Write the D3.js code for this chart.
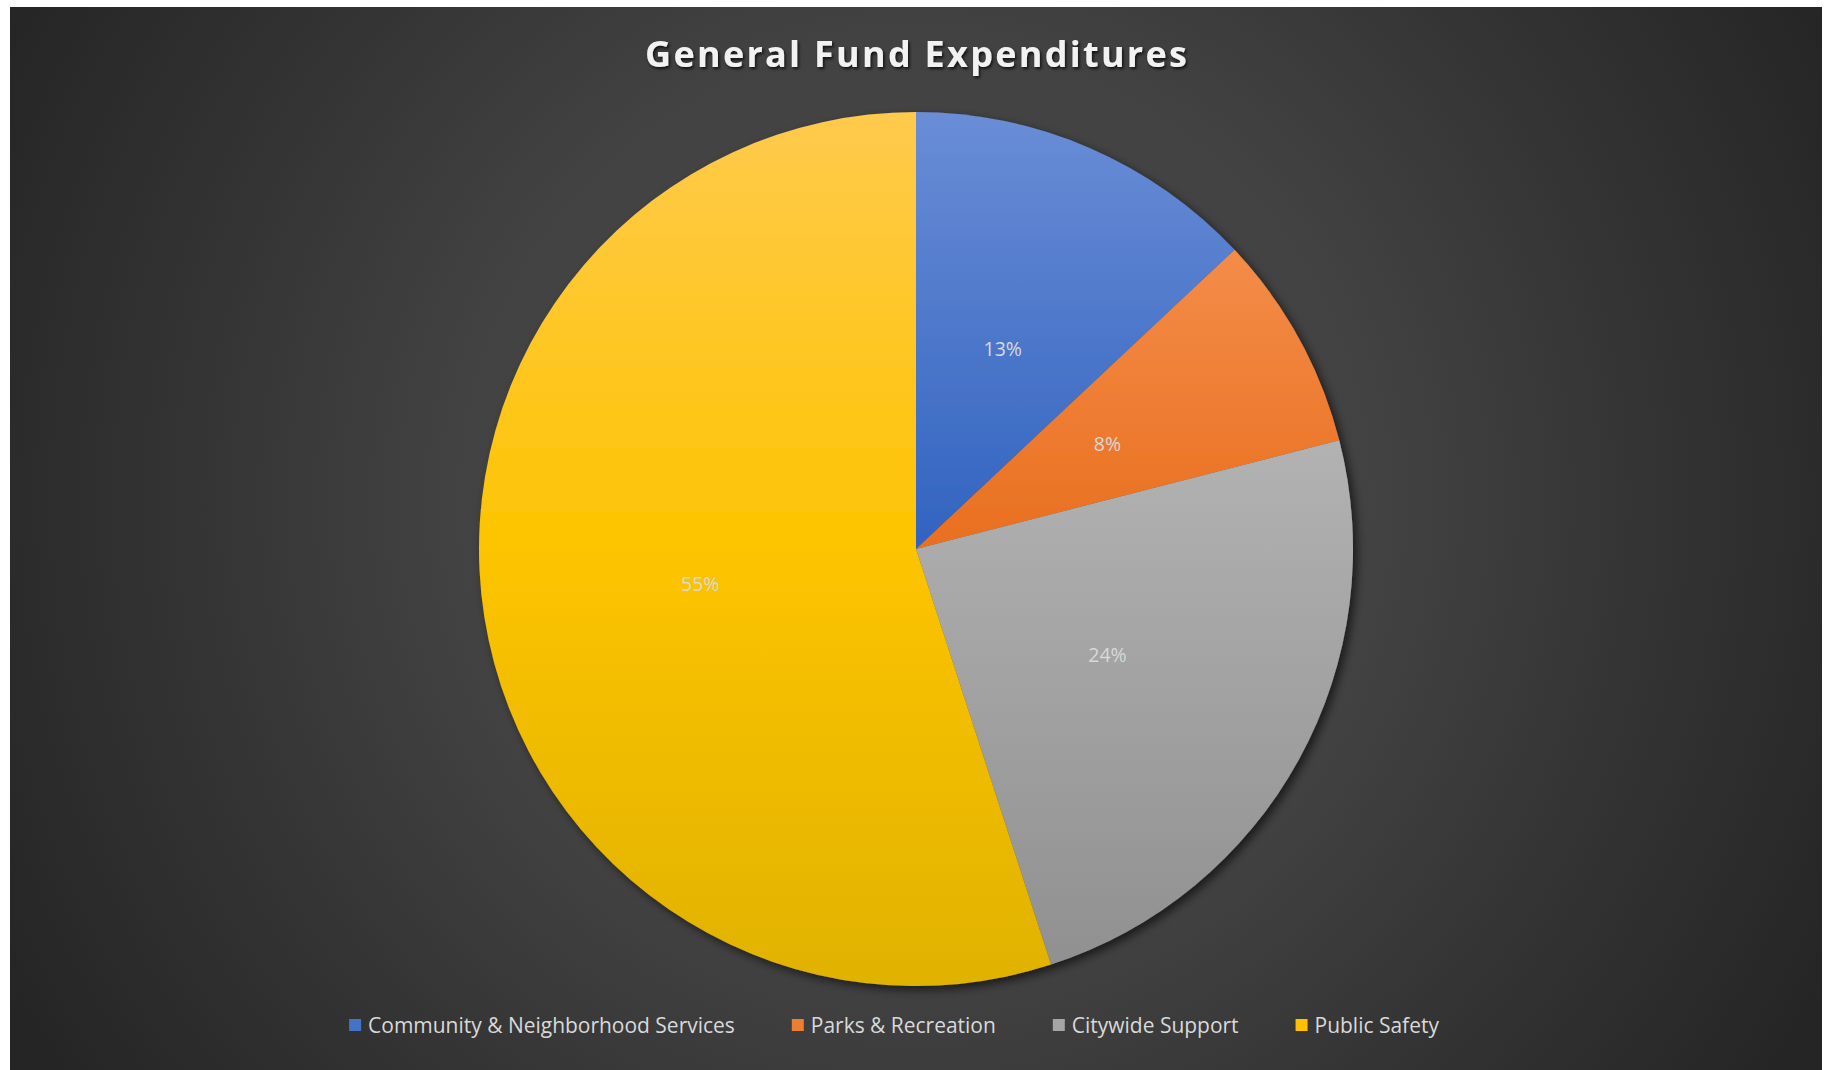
<!DOCTYPE html>
<html>
<head>
<meta charset="utf-8">
<script src="https://cdn.jsdelivr.net/npm/d3@7"></script>
<style>
  html, body { margin: 0; padding: 0; background: #ffffff; }
  svg { display: block; }
</style>
</head>
<body>
<svg id="chart" width="1829" height="1070"></svg>
<script>
// General Fund expenditures by service area (percent of total)
const categories = ["Community & Neighborhood Services", "Parks & Recreation", "Citywide Support", "Public Safety"];
const shares = [13, 8, 24, 55];
const titleText = "General Fund Expenditures";

// Per-slice vertical gradient colours: top, middle, bottom
const sliceTop    = ["#6a8dd6", "#f89a5c", "#c8c8c8", "#ffca4c"];
const sliceMid    = ["#3163c0", "#e96f1f", "#ababab", "#fdc400"];
const sliceBottom = ["#2a56aa", "#d9620f", "#8f8f8f", "#e0b200"];
const legendSwatch = ["#4472c4", "#ed7d31", "#a5a5a5", "#ffc000"];

const frame = { x: 10, y: 7, w: 1812, h: 1063 };
const cx = 916, cy = 549, R = 437;

const svg = d3.select("#chart");
const defs = svg.append("defs");

// Background: dark radial gradient
const bg = defs.append("radialGradient")
  .attr("id", "bgGrad")
  .attr("gradientUnits", "userSpaceOnUse")
  .attr("cx", 916).attr("cy", 500).attr("r", 1035);
[[0, "#4a4a4a"], [0.45, "#424242"], [0.7, "#343434"], [1, "#252525"]]
  .forEach(([o, c]) => bg.append("stop").attr("offset", o).attr("stop-color", c));

svg.append("rect")
  .attr("x", frame.x).attr("y", frame.y)
  .attr("width", frame.w).attr("height", frame.h)
  .attr("fill", "url(#bgGrad)");

// Drop shadow for the pie
const pieShadow = defs.append("filter").attr("id", "pieShadow")
  .attr("x", "-10%").attr("y", "-10%").attr("width", "120%").attr("height", "120%");
pieShadow.append("feDropShadow")
  .attr("dx", 4).attr("dy", 4).attr("stdDeviation", 5)
  .attr("flood-color", "#000").attr("flood-opacity", 0.6);

// Title shadow
const titleShadow = defs.append("filter").attr("id", "titleShadow")
  .attr("x", "-5%").attr("y", "-30%").attr("width", "110%").attr("height", "160%");
titleShadow.append("feDropShadow")
  .attr("dx", 1.5).attr("dy", 2).attr("stdDeviation", 1.5)
  .attr("flood-color", "#000").attr("flood-opacity", 0.75);

// Slice gradients spanning the pie's full height (pie-local coordinates)
categories.forEach((c, i) => {
  const g = defs.append("linearGradient")
    .attr("id", "slice" + i)
    .attr("gradientUnits", "userSpaceOnUse")
    .attr("x1", 0).attr("y1", -R).attr("x2", 0).attr("y2", R);
  g.append("stop").attr("offset", 0).attr("stop-color", sliceTop[i]);
  g.append("stop").attr("offset", 0.5).attr("stop-color", sliceMid[i]);
  g.append("stop").attr("offset", 1).attr("stop-color", sliceBottom[i]);
});

// Title
const title = svg.append("text")
  .attr("x", cx).attr("y", 67)
  .attr("text-anchor", "middle")
  .attr("font-family", "'Open Sans', 'DejaVu Sans', sans-serif")
  .attr("font-weight", 700)
  .attr("font-size", 36)
  .attr("fill", "#f2f2f2")
  .attr("filter", "url(#titleShadow)")
  .text(titleText);
{
  const w = title.node().getComputedTextLength();
  const spacing = (542 - w) / (titleText.length - 1);
  title.attr("letter-spacing", spacing.toFixed(2));
  title.attr("x", cx + spacing / 2);
}

// Pie
const pie = d3.pie().sort(null).value(d => d)(shares);
const arc = d3.arc().innerRadius(0).outerRadius(R);

const pieG = svg.append("g").attr("transform", `translate(${cx},${cy})`);
pieG.append("g")
  .attr("filter", "url(#pieShadow)")
  .selectAll("path")
  .data(pie)
  .join("path")
  .attr("d", arc)
  .attr("fill", (d, i) => `url(#slice${i})`);

// Data labels at arc centroids
pieG.append("g")
  .selectAll("text")
  .data(pie)
  .join("text")
  .attr("transform", d => `translate(${arc.centroid(d)})`)
  .attr("text-anchor", "middle")
  .attr("dominant-baseline", "central")
  .attr("font-family", "'Open Sans', 'DejaVu Sans', sans-serif")
  .attr("font-size", 19.5)
  .attr("fill", "#d9d9d9")
  .text(d => d.data + "%");

// Legend
const legendFont = "'Open Sans', 'DejaVu Sans', sans-serif";
const legend = svg.append("g");
const items = legend.selectAll("g").data(categories).join("g");
const legendTexts = items.append("text")
  .attr("font-family", legendFont)
  .attr("font-size", 18)
  .attr("fill", "#d9d9d9")
  .attr("dominant-baseline", "central")
  .text(d => d);

// Fit font size so the first entry spans the intended width
{
  const w0 = legendTexts.nodes()[0].getComputedTextLength();
  const fs = 18 * 367 / w0;
  legendTexts.attr("font-size", fs.toFixed(2));
}

const sw = 12, swGap = 7, itemGap = 57, legendY = 1025;
const widths = legendTexts.nodes().map(n => n.getComputedTextLength());
const total = widths.reduce((a, w) => a + sw + swGap + w, 0) + itemGap * (widths.length - 1);
let xPos = 894 - total / 2;
items.each(function (d, i) {
  const g = d3.select(this).attr("transform", `translate(${xPos},${legendY})`);
  g.insert("rect", "text")
    .attr("x", 0).attr("y", -sw / 2)
    .attr("width", sw).attr("height", sw)
    .attr("fill", legendSwatch[i]);
  g.select("text").attr("x", sw + swGap).attr("y", 0);
  xPos += sw + swGap + widths[i] + itemGap;
});
</script>
</body>
</html>
